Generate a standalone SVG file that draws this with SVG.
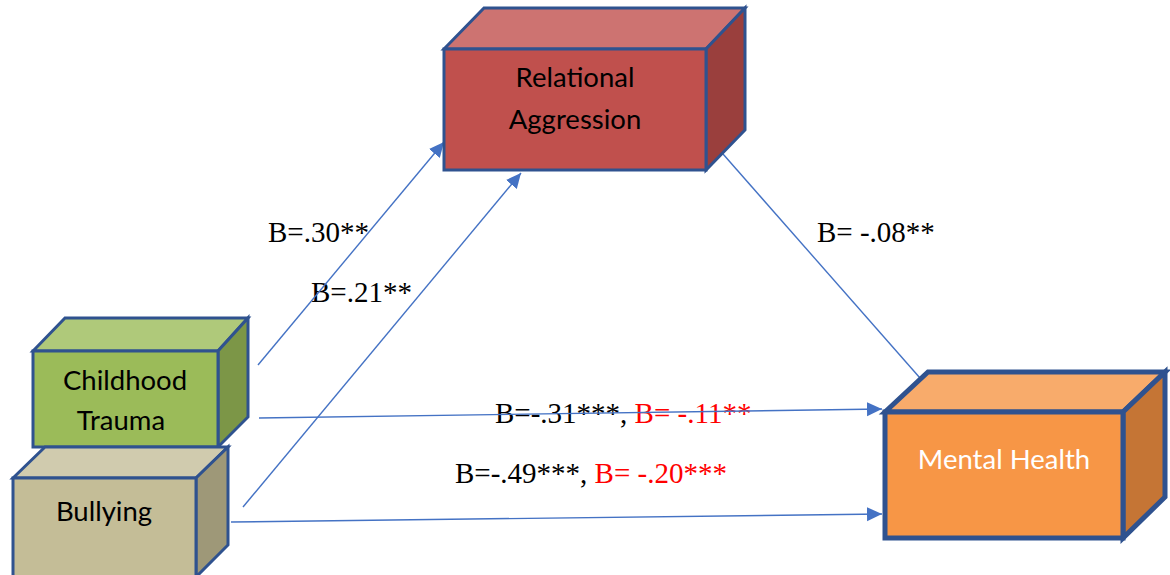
<svg xmlns="http://www.w3.org/2000/svg" width="1170" height="575" viewBox="0 0 1170 575">
<style>
.node{font-family:Lato,"Open Sans","Liberation Sans",sans-serif;font-size:27.5px;text-anchor:middle;fill:#000}
.lbl{font-family:"Liberation Serif","Times New Roman",serif;font-size:29px;fill:#000}
.red{fill:#FF0000}
.conn{stroke:#4472C4;stroke-width:1.4;fill:none}
.box{stroke:#2F528F;stroke-width:3;stroke-linejoin:miter}
</style>
<defs>
<marker id="arr" markerUnits="userSpaceOnUse" markerWidth="16" markerHeight="16" viewBox="0 0 16 16" refX="15" refY="8" orient="auto">
<path d="M0,1 L15,8 L0,15 Z" fill="#4472C4"/>
</marker>
</defs>
<rect width="1170" height="575" fill="#fff"/>
<g id="labels">
<text class="lbl" x="268" y="242">B=.30**</text>
<text class="lbl" x="311" y="302">B=.21**</text>
<text class="lbl" x="817" y="242">B= -.08**</text>
<text class="lbl" x="495" y="423">B=-.31***, <tspan class="red">B= -.11**</tspan></text>
<text class="lbl" x="455" y="483">B=-.49***, <tspan class="red">B= -.20***</tspan></text>
</g>
<g id="connectors">
<line class="conn" x1="258" y1="365" x2="444" y2="142" marker-end="url(#arr)"/>
<line class="conn" x1="243" y1="507" x2="521" y2="173" marker-end="url(#arr)"/>
<line class="conn" x1="723" y1="154" x2="920" y2="378"/>
<line class="conn" x1="259" y1="418" x2="882" y2="409" marker-end="url(#arr)"/>
<line class="conn" x1="231" y1="522" x2="882" y2="514" marker-end="url(#arr)"/>
</g>
<g id="relational-aggression">
<polygon class="box" points="444,49 484,8 745,8 706,49" fill="#CD7371"/>
<polygon class="box" points="706,49 745,8 745,130 706,170" fill="#9A3F3D"/>
<rect class="box" x="444" y="49" width="262" height="121" fill="#C0504D"/>
<text class="node" x="575" y="87">Relational</text>
<text class="node" x="575" y="129">Aggression</text>
</g>
<g id="childhood-trauma">
<polygon class="box" points="33,351 65,318 248,318 218,351" fill="#AFC97A"/>
<polygon class="box" points="218,351 248,318 248,417 218,447" fill="#7C9647"/>
<rect class="box" x="33" y="351" width="185" height="96" fill="#9BBB59"/>
<text class="node" x="125" y="390">Childhood</text>
<text class="node" x="121" y="430">Trauma</text>
</g>
<g id="bullying">
<polygon class="box" points="13,478 45,447 228,447 196,478" fill="#D0CBAE"/>
<polygon class="box" points="196,478 228,447 228,545 196,577" fill="#9E9878"/>
<rect class="box" x="13" y="478" width="183" height="100" fill="#C4BD97"/>
<text class="node" x="104" y="521">Bullying</text>
</g>
<g id="mental-health">
<polygon class="box" points="885,412 928,372 1165,372 1123,412" fill="#F8AB6B" style="stroke-width:5"/>
<polygon class="box" points="1123,412 1165,372 1165,497 1123,538" fill="#C57535" style="stroke-width:5"/>
<rect class="box" x="885" y="412" width="238" height="126" fill="#F79646" style="stroke-width:5"/>
<text class="node" x="1004" y="469" style="fill:#fff">Mental Health</text>
</g>
</svg>
